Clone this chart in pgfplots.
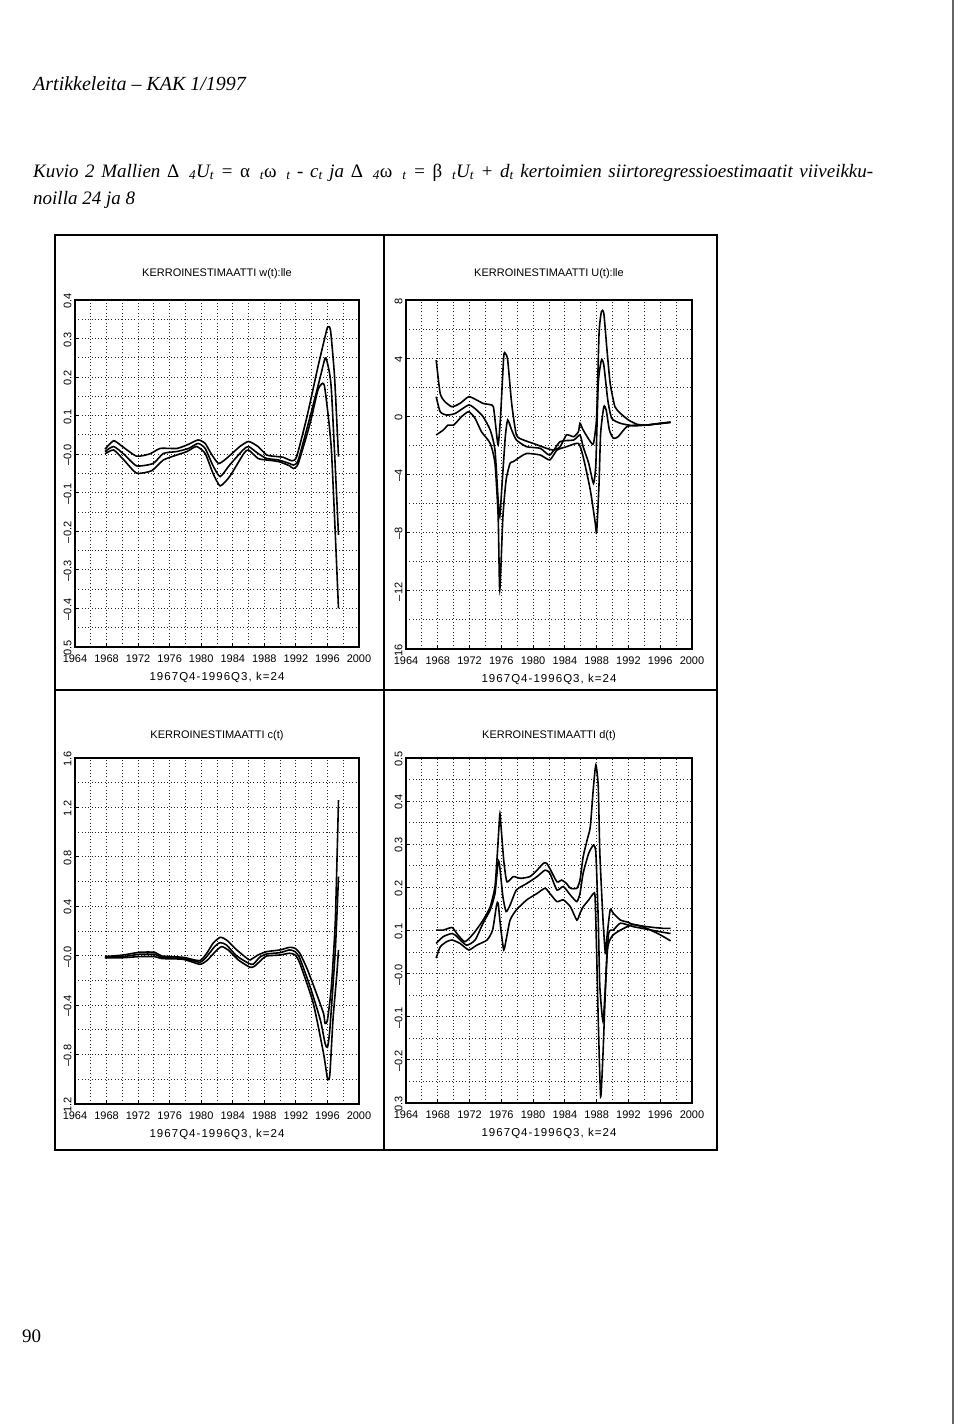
\documentclass[border=0pt]{standalone}
\usepackage{fontspec}
\setmainfont{Liberation Sans}
\newfontfamily\serif{Liberation Serif}
\usepackage{pgfplots}
\pgfplotsset{compat=1.18}
\pgfplotsset{
  kak/.style={
    scale only axis, anchor=north west,
    xmin=1964, xmax=2000,
    xtick={1964,1968,1972,1976,1980,1984,1988,1992,1996,2000},
    xticklabels={1964,1968,1972,1976,1980,1984,1988,1992,1996,2000},
    minor x tick num=1, minor y tick num=1,
    grid=both,
    major grid style={dash pattern=on 1pt off 2.3pt, line width=0.9pt, black!85},
    minor grid style={dash pattern=on 1pt off 2.3pt, line width=0.9pt, black!85},
    axis line style={line width=1.6pt},
    major tick style={line width=1pt, black},
    major tick length=4pt, minor tick length=0pt,
    tick align=inside,
    xtick pos=left, ytick pos=left,
    ticklabel style={font=\fontsize{11}{12}\selectfont},
    xticklabel style={yshift=-4pt},
    yticklabel style={rotate=90, anchor=south, xshift=-1pt},
    title style={font=\fontsize{11}{12}\selectfont, at={(axis description cs:0.5,1)}, anchor=center, yshift=20pt},
    xlabel style={font=\fontsize{11.5}{12}\selectfont\addfontfeatures{LetterSpace=9}, at={(axis description cs:0.5,0)}, anchor=center, yshift=-30pt},
    no markers,
    every axis plot post/.append style={black, line width=1.6pt, mark=none, smooth, tension=0.35},
  }
}
\begin{document}
\begin{tikzpicture}
\path[use as bounding box] (0,0) rectangle (960pt,-1424pt);
% page text
\node[anchor=base west, inner sep=0pt] at (33pt,-90pt) {\serif\itshape\fontsize{20}{22}\selectfont Artikkeleita – KAK 1/1997};
\node[anchor=base west, inner sep=0pt] at (33pt,-177pt) {\serif\itshape\fontsize{19}{22}\selectfont \makebox[840pt][s]{Kuvio 2 Mallien {\upshape Δ}\, \textsubscript{4}U\textsubscript{\itshape t} = {\upshape α}\, \textsubscript{\itshape t}{\upshape ω}\, \textsubscript{\itshape t} - c\textsubscript{\itshape t} ja {\upshape Δ}\, \textsubscript{4}{\upshape ω}\, \textsubscript{\itshape t} = {\upshape β}\, \textsubscript{\itshape t}U\textsubscript{\itshape t} + d\textsubscript{\itshape t} kertoimien siirtoregressioestimaatit viiveikku-}};
\node[anchor=base west, inner sep=0pt] at (33pt,-204pt) {\serif\itshape\fontsize{19}{22}\selectfont noilla 24 ja 8};
\node[anchor=base west, inner sep=0pt] at (22pt,-1342pt) {\serif\fontsize{19}{22}\selectfont 90};
% frames
\draw[line width=1.4pt] (55pt,-235pt) rectangle (717pt,-1150pt);
\draw[line width=1.4pt] (384pt,-235pt) -- (384pt,-1150pt);
\draw[line width=1.4pt] (55pt,-690pt) -- (717pt,-690pt);
\draw[line width=1.2pt, black!60] (953pt,0pt) -- (953pt,-1424pt);

% Panel 1: w(t)
\begin{axis}[kak, at={(75pt,-300pt)}, width=284pt, height=347pt,
  ymin=-0.5, ymax=0.4,
  ytick={-0.5,-0.4,-0.3,-0.2,-0.1,0,0.1,0.2,0.3,0.4},
  yticklabels={0.5,–0.4,–0.3,–0.2,–0.1,–0.0,0.1,0.2,0.3,0.4},
  title={KERROINESTIMAATTI w(t):lle},
  xlabel={1967Q4-1996Q3, k=24}]
\addplot coordinates {(1967.8,0.013) (1968.9,0.035) (1970.0,0.020) (1971.8,-0.005) (1973.5,0.001) (1974.8,0.015) (1976.9,0.015) (1978.2,0.024) (1979.6,0.037) (1980.5,0.028) (1981.3,0.000) (1982.2,-0.024) (1983.2,-0.011) (1984.9,0.020) (1986.0,0.033) (1987.2,0.020) (1988.3,-0.002) (1989.6,-0.006) (1990.4,-0.008) (1991.5,-0.017) (1992.1,-0.006) (1993.4,0.097) (1994.8,0.227) (1995.9,0.322) (1996.1,0.331) (1996.4,0.320) (1996.9,0.201) (1997.4,-0.006)};
\addplot coordinates {(1967.8,0.007) (1968.9,0.020) (1970.2,0.000) (1971.8,-0.030) (1973.9,-0.024) (1975.2,0.002) (1976.9,0.007) (1978.4,0.015) (1979.6,0.028) (1980.5,0.015) (1981.5,-0.030) (1982.4,-0.058) (1983.6,-0.028) (1985.3,0.011) (1986.0,0.020) (1987.2,0.002) (1988.3,-0.011) (1989.8,-0.015) (1991.2,-0.024) (1991.7,-0.028) (1992.3,-0.015) (1993.8,0.097) (1995.1,0.201) (1995.7,0.249) (1996.0,0.236) (1996.5,0.167) (1997.4,-0.209)};
\addplot coordinates {(1967.8,0.001) (1968.9,0.011) (1970.2,-0.015) (1971.8,-0.049) (1973.7,-0.043) (1975.2,-0.015) (1976.9,-0.002) (1978.2,0.007) (1979.4,0.020) (1980.5,0.002) (1981.5,-0.050) (1982.4,-0.082) (1983.6,-0.058) (1985.4,0.002) (1986.0,0.011) (1987.2,-0.011) (1988.3,-0.015) (1989.8,-0.019) (1991.2,-0.030) (1991.7,-0.037) (1992.3,-0.024) (1993.8,0.080) (1994.8,0.167) (1995.4,0.184) (1995.7,0.167) (1996.5,0.011) (1997.4,-0.400)};
\end{axis}

% Panel 2: U(t)
\begin{axis}[kak, at={(406pt,-300pt)}, width=286pt, height=349pt,
  ymin=-16, ymax=8,
  ytick={-16,-12,-8,-4,0,4,8},
  yticklabels={16,–12,–8,–4,0,4,8},
  title={KERROINESTIMAATTI U(t):lle},
  xlabel={1967Q4-1996Q3, k=24}]
\addplot coordinates {(1967.8,3.87) (1968.3,1.58) (1968.9,1.01) (1969.8,0.66) (1970.8,0.89) (1971.9,1.35) (1972.9,1.12) (1973.7,0.89) (1974.6,0.80) (1975.0,0.66) (1975.3,-0.71) (1975.6,-1.97) (1975.9,-0.02) (1976.3,4.10) (1976.5,4.33) (1976.8,3.87) (1977.3,0.89) (1977.9,-1.28) (1978.8,-1.63) (1980.0,-1.86) (1981.7,-2.20) (1982.6,-2.32) (1983.4,-2.09) (1984.2,-1.28) (1985.1,-1.40) (1985.7,-1.06) (1985.9,-0.48) (1986.3,-0.94) (1987.2,-1.74) (1987.6,-1.86) (1988.0,-0.02) (1988.3,5.71) (1988.6,7.20) (1988.9,7.08) (1989.3,4.56) (1989.7,2.27) (1990.3,0.66) (1991.0,0.20) (1992.0,-0.25) (1993.1,-0.55) (1994.3,-0.60) (1995.6,-0.50) (1997.3,-0.40)};
\addplot coordinates {(1967.8,1.35) (1968.3,0.32) (1969.1,0.09) (1970.2,0.20) (1971.9,0.78) (1972.9,0.43) (1973.7,-0.02) (1974.6,-0.94) (1975.2,-2.32) (1975.6,-5.76) (1975.8,-6.90) (1976.1,-4.61) (1976.5,-1.40) (1976.8,-0.25) (1977.3,-0.94) (1977.9,-1.63) (1979.2,-2.09) (1980.9,-2.20) (1982.1,-2.66) (1983.4,-1.74) (1985.1,-1.63) (1985.9,-1.28) (1986.3,-2.09) (1987.0,-3.23) (1987.6,-4.61) (1987.9,-3.23) (1988.2,2.27) (1988.6,3.87) (1988.9,3.53) (1989.4,1.12) (1989.9,-0.14) (1991.0,-0.48) (1992.6,-0.65) (1994.3,-0.60) (1997.3,-0.42)};
\addplot coordinates {(1967.8,-1.28) (1968.7,-0.94) (1969.3,-0.60) (1970.0,-0.60) (1971.0,-0.02) (1971.9,0.32) (1972.7,-0.14) (1973.5,-1.06) (1974.6,-1.86) (1975.2,-3.23) (1975.6,-6.90) (1975.8,-11.94) (1976.2,-6.90) (1976.6,-4.38) (1977.1,-3.23) (1977.5,-3.12) (1978.4,-2.78) (1979.2,-2.55) (1980.9,-2.66) (1982.1,-3.00) (1983.0,-2.32) (1984.2,-2.09) (1985.7,-1.86) (1986.3,-2.78) (1987.2,-5.07) (1987.8,-7.25) (1988.0,-7.93) (1988.3,-4.61) (1988.5,-1.17) (1988.9,0.66) (1989.2,0.43) (1989.6,-0.94) (1990.1,-1.51) (1990.7,-1.40) (1991.8,-0.71) (1993.1,-0.60) (1994.3,-0.60) (1997.3,-0.40)};
\end{axis}

% Panel 3: c(t)
\begin{axis}[kak, at={(75pt,-758pt)}, width=284pt, height=346pt,
  ymin=-1.2, ymax=1.6,
  ytick={-1.2,-0.8,-0.4,0,0.4,0.8,1.2,1.6},
  yticklabels={1.2,–0.8,–0.4,–0.0,0.4,0.8,1.2,1.6},
  title={KERROINESTIMAATTI c(t)},
  title style={yshift=-4pt},
  xlabel={1967Q4-1996Q3, k=24}]
\addplot coordinates {(1967.8,-0.007) (1970.1,0.006) (1972.2,0.028) (1974.1,0.028) (1975.0,-0.002) (1977.7,-0.013) (1979.8,-0.040) (1980.7,0.020) (1981.5,0.101) (1982.4,0.149) (1983.2,0.128) (1984.5,0.047) (1985.8,-0.021) (1986.2,-0.034) (1987.2,0.006) (1988.3,0.033) (1990.0,0.047) (1991.2,0.068) (1991.9,0.060) (1992.5,0.020) (1993.4,-0.102) (1994.6,-0.304) (1995.5,-0.466) (1995.7,-0.547) (1996.0,-0.520) (1996.5,-0.250) (1997.0,0.289) (1997.4,1.260)};
\addplot coordinates {(1967.8,-0.013) (1970.1,-0.007) (1972.2,0.012) (1974.1,0.012) (1975.0,-0.013) (1977.7,-0.021) (1979.8,-0.053) (1980.7,-0.007) (1981.7,0.074) (1982.4,0.106) (1983.2,0.087) (1984.5,-0.002) (1986.0,-0.061) (1986.6,-0.069) (1987.4,-0.013) (1988.3,0.014) (1990.0,0.025) (1991.2,0.047) (1991.9,0.033) (1992.5,-0.021) (1993.8,-0.250) (1995.1,-0.520) (1995.7,-0.709) (1996.0,-0.741) (1996.3,-0.600) (1997.0,0.047) (1997.4,0.640)};
\addplot coordinates {(1967.8,-0.018) (1970.1,-0.016) (1972.2,-0.007) (1974.1,-0.007) (1975.0,-0.023) (1977.7,-0.029) (1979.8,-0.069) (1980.7,-0.040) (1982.0,0.047) (1982.6,0.074) (1983.4,0.047) (1984.7,-0.034) (1986.2,-0.094) (1986.8,-0.083) (1987.7,-0.029) (1988.3,-0.002) (1990.0,0.006) (1991.2,0.020) (1991.9,0.006) (1992.5,-0.061) (1994.2,-0.385) (1995.5,-0.789) (1996.0,-0.992) (1996.3,-0.965) (1996.7,-0.520) (1997.2,-0.142) (1997.4,0.047)};
\end{axis}

% Panel 4: d(t)
\begin{axis}[kak, at={(406pt,-758pt)}, width=286pt, height=345pt,
  ymin=-0.3, ymax=0.5,
  ytick={-0.3,-0.2,-0.1,0,0.1,0.2,0.3,0.4,0.5},
  yticklabels={0.3,–0.2,–0.1,–0.0,0.1,0.2,0.3,0.4,0.5},
  title={KERROINESTIMAATTI d(t)},
  title style={yshift=-4pt},
  xlabel={1967Q4-1996Q3, k=24}]
\addplot coordinates {(1967.8,0.101) (1968.7,0.101) (1969.8,0.107) (1970.4,0.093) (1971.4,0.074) (1972.5,0.093) (1973.7,0.124) (1974.6,0.155) (1975.2,0.202) (1975.5,0.279) (1975.8,0.368) (1975.9,0.356) (1976.3,0.263) (1976.7,0.213) (1977.5,0.225) (1978.4,0.221) (1979.6,0.225) (1980.5,0.240) (1981.3,0.256) (1981.7,0.256) (1982.1,0.244) (1983.0,0.213) (1983.6,0.217) (1984.2,0.209) (1984.7,0.198) (1985.5,0.198) (1985.9,0.217) (1986.3,0.271) (1986.8,0.310) (1987.2,0.341) (1987.6,0.434) (1987.9,0.484) (1988.2,0.434) (1988.4,0.279) (1988.8,0.124) (1989.1,0.047) (1989.3,0.086) (1989.7,0.148) (1990.1,0.140) (1991.0,0.124) (1991.8,0.120) (1992.6,0.114) (1993.9,0.110) (1995.2,0.107) (1996.4,0.105) (1997.3,0.105)};
\addplot coordinates {(1967.8,0.070) (1968.7,0.086) (1969.8,0.093) (1970.4,0.086) (1971.6,0.066) (1972.7,0.078) (1973.7,0.117) (1974.6,0.148) (1975.2,0.186) (1975.6,0.260) (1975.8,0.248) (1976.2,0.178) (1976.6,0.144) (1977.1,0.159) (1977.9,0.194) (1979.2,0.209) (1980.5,0.225) (1981.5,0.240) (1982.1,0.233) (1983.0,0.194) (1983.8,0.202) (1984.7,0.182) (1985.5,0.167) (1985.9,0.186) (1986.3,0.233) (1987.0,0.279) (1987.6,0.298) (1987.9,0.279) (1988.2,0.124) (1988.4,-0.030) (1988.8,-0.111) (1989.1,-0.030) (1989.5,0.093) (1990.1,0.101) (1991.0,0.117) (1992.6,0.109) (1994.3,0.103) (1996.0,0.097) (1997.3,0.093)};
\addplot coordinates {(1967.8,0.036) (1968.3,0.062) (1969.1,0.074) (1969.8,0.078) (1970.8,0.070) (1971.9,0.055) (1972.9,0.066) (1974.2,0.078) (1974.9,0.101) (1975.4,0.159) (1975.6,0.163) (1975.9,0.109) (1976.3,0.055) (1976.6,0.078) (1977.1,0.124) (1977.9,0.148) (1979.2,0.171) (1980.5,0.186) (1981.5,0.198) (1982.1,0.186) (1983.0,0.167) (1983.8,0.171) (1984.7,0.155) (1985.5,0.124) (1985.9,0.140) (1986.3,0.155) (1987.0,0.171) (1987.6,0.186) (1987.8,0.178) (1988.0,0.047) (1988.2,-0.108) (1988.5,-0.285) (1988.8,-0.185) (1989.3,0.047) (1989.9,0.086) (1991.0,0.101) (1992.6,0.114) (1994.3,0.105) (1996.0,0.090) (1997.3,0.076)};
\end{axis}
\end{tikzpicture}
\end{document}
